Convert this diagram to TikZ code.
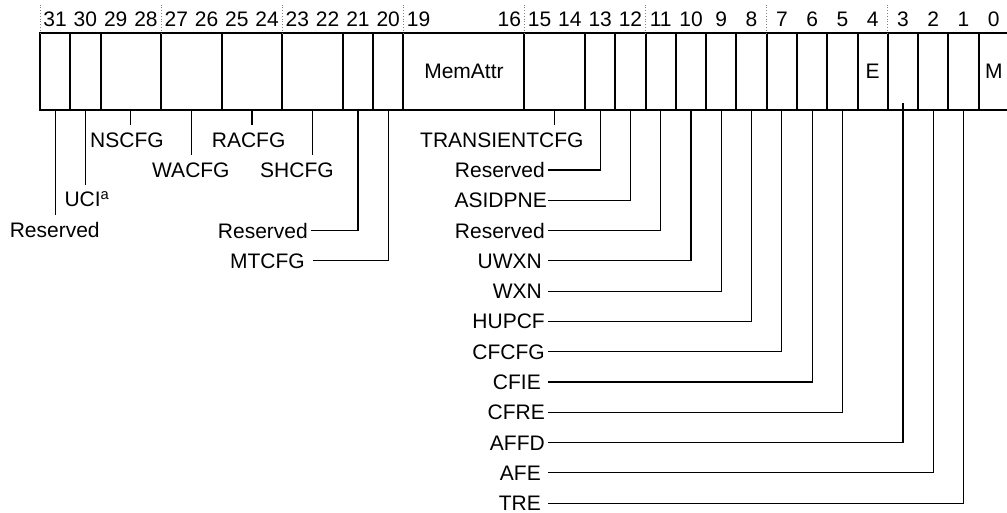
\documentclass[tikz,border=0pt]{standalone}
\usepackage{fontspec}
\setmainfont{Liberation Sans}
\begin{document}
\begin{tikzpicture}[x=1pt,y=-1pt,
  font=\fontsize{21}{25}\selectfont,
  field/.style={draw, line width=2pt, minimum height=76.7pt, inner sep=0pt, outer sep=0pt},
  bitnum/.style={inner sep=0pt},
  blab/.style={inner xsep=0pt, inner ysep=7pt, text height=15pt, text depth=0pt, anchor=base west},
  rlab/.style={inner xsep=3pt, inner ysep=0pt, text height=15pt, text depth=0pt, anchor=east},
  lead/.style={line width=1.2pt},
  sepline/.style={dotted, gray, line width=0.8pt}]
\useasboundingbox (0,0) rectangle (1007,512);

% register fields
\foreach \h/\l/\t in {31/31/{},30/30/{},29/28/{},27/26/{},25/24/{},23/22/{},21/21/{},20/20/{},19/16/MemAttr,15/14/{},13/13/{},12/12/{},11/11/{},10/10/{},9/9/{},8/8/{},7/7/{},6/6/{},5/5/{},4/4/E,3/3/{},2/2/{},1/1/{},0/0/M}{
  \pgfmathsetmacro\fxa{40+(31-\h)*30.28}
  \pgfmathsetmacro\ffw{(\h-\l+1)*30.28}
  \pgfmathsetmacro\fxc{\fxa+\ffw/2}
  \node[field, minimum width=\ffw pt] (f\l) at (\fxc,71.7) {\t};
}

% bit numbers
\foreach \b in {31,30,29,28,27,26,25,24,23,22,21,20,19,16,15,14,13,12,11,10,9,8,7,6,5,4,3,2,1,0}{
  \pgfmathsetmacro\bx{40+(31-\b)*30.28+15.14}
  \node[bitnum] (n\b) at (\bx,19.3) {\b};
}

% dotted separators
\foreach \f in {31,26,22,16,14,11,7,3}{
  \draw[sepline] (f\f.north west) -- ++(0,-29.5);
}

% labels below (vertical leaders)
\node[blab, anchor=base] (l31) at (54.7,237.3) {Reserved};
\node[blab] (l30) at (64.3,206.7) {UCI\textsuperscript{a}};
\node[blab] (l28) at (90,147) {NSCFG};
\node[blab] (l26) at (152,177) {WACFG};
\node[blab] (l24) at (211.7,147) {RACFG};
\node[blab] (l22) at (260,177) {SHCFG};
\node[blab] (l14) at (420,147) {TRANSIENTCFG};

\foreach \f in {31,30,28,26,24,22,14}{
  \draw[lead] (f\f.south) -- (f\f.south |- l\f.north);
}

% elbow labels left group
\node[rlab] (l21) at (311,230.6) {Reserved};
\node[rlab, inner xsep=8pt] (l20) at (313,260.8) {MTCFG};
\draw[lead] (f21.south) |- (l21.east);
\draw[lead] (f20.south) |- (l20.east);

% elbow labels right group
\node[rlab] (l13) at (548,170) {Reserved};
\node[rlab, inner xsep=1pt] (l12) at (548,200.3) {ASIDPNE};
\node[rlab] (l11) at (548,230.6) {Reserved};
\node[rlab, inner xsep=6pt] (l10) at (548,260.8) {UWXN};
\node[rlab, inner xsep=6pt] (l9) at (548,291.1) {WXN};
\node[rlab] (l8) at (548,321.4) {HUPCF};
\node[rlab] (l7) at (548,351.7) {CFCFG};
\node[rlab, inner xsep=7pt] (l6) at (548,382) {CFIE};
\node[rlab] (l5) at (548,412.2) {CFRE};
\node[rlab] (l3) at (548,442.5) {AFFD};
\node[rlab, inner xsep=7pt] (l2) at (548,472.8) {AFE};
\node[rlab, inner xsep=7pt] (l1) at (548,503.1) {TRE};

\foreach \f in {13,12,11,10,9,8,7,6,5,2,1}{
  \draw[lead] (f\f.south) |- (l\f.east);
}
\draw[lead] ([yshift=7pt]f3.south) |- (l3.east);
\end{tikzpicture}
\end{document}
